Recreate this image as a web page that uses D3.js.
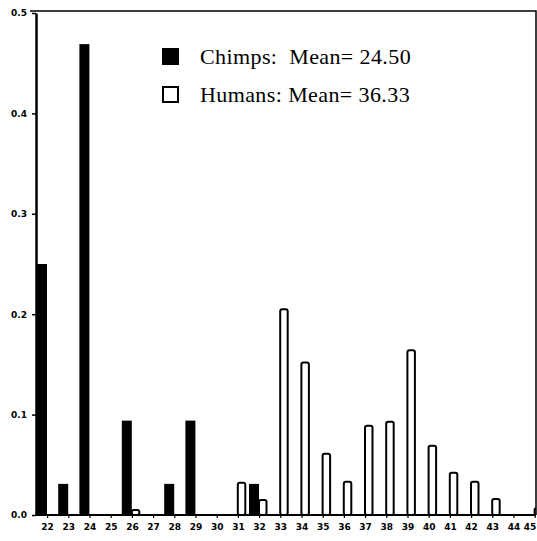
<!DOCTYPE html>
<html>
<head>
<meta charset="utf-8">
<script src="https://cdn.jsdelivr.net/npm/d3@7"></script>
<style>
  body { margin: 0; background: #fff; }
  .tick-label { font-family: "DejaVu Sans", sans-serif; font-weight: bold; font-size: 9px; fill: #000; }
  .legend-text { font-family: "Liberation Serif", serif; font-size: 22px; letter-spacing: 0.4px; fill: #000; white-space: pre; }
</style>
</head>
<body>
<svg id="chart"></svg>
<script>
// ages on the x axis
const ages = ['22','23','24','25','26','27','28','29','30','31','32','33',
              '34','35','36','37','38','39','40','41','42','43','44','45'];
// proportion of chimps per age
const chimpValues = [0.25, 0.031, 0.469, 0, 0.094, 0, 0.031, 0.094, 0, 0, 0.031, 0,
                     0, 0, 0, 0, 0, 0, 0, 0, 0, 0, 0, 0];
// proportion of humans per age
const humanValues = [0, 0, 0, 0, 0.005, 0, 0, 0, 0, 0.032, 0.015, 0.205,
                     0.152, 0.061, 0.033, 0.089, 0.093, 0.164, 0.069, 0.042, 0.033, 0.016, 0, 0.007];
const yTicks = [0.0, 0.1, 0.2, 0.3, 0.4, 0.5];
const legendLabels = ['Chimps:  Mean= 24.50', 'Humans: Mean= 36.33'];

class PairedBars {
  constructor(_config) {
    this.config = {
      parentElement: _config.parentElement,
      containerWidth: _config.containerWidth || 537,
      containerHeight: _config.containerHeight || 541,
      margin: _config.margin || {top: 13, right: 1, bottom: 26, left: 36}
    };
    this.initVis();
  }

  initVis() {
    let vis = this;
    vis.width = vis.config.containerWidth - vis.config.margin.left - vis.config.margin.right;
    vis.height = vis.config.containerHeight - vis.config.margin.top - vis.config.margin.bottom;

    vis.svg = d3.select(vis.config.parentElement)
        .attr('width', vis.config.containerWidth)
        .attr('height', vis.config.containerHeight);

    vis.chart = vis.svg.append('g')
        .attr('transform', `translate(${vis.config.margin.left},${vis.config.margin.top})`);

    // categories step ~21.2px, last one runs past the frame
    vis.xScale = d3.scaleBand()
        .domain(ages)
        .range([1, 1 + ages.length * 21.2])
        .paddingInner(0);

    vis.yScale = d3.scaleLinear()
        .domain([0, 0.5])
        .range([vis.height, 0]);

    vis.svg.append('clipPath').attr('id', 'plot-clip')
      .append('rect')
        .attr('width', vis.width)
        .attr('height', vis.height + 2);

    vis.renderVis();
  }

  renderVis() {
    let vis = this;
    const bars = vis.chart.append('g').attr('clip-path', 'url(#plot-clip)');

    const chimps = ages.map((a, i) => ({key: a, value: chimpValues[i]})).filter(d => d.value > 0);
    const humans = ages.map((a, i) => ({key: a, value: humanValues[i]})).filter(d => d.value > 0);

    bars.selectAll('.chimp')
        .data(chimps)
        .join('rect')
        .attr('class', 'chimp')
        .attr('x', d => vis.xScale(d.key))
        .attr('width', 10)
        .attr('y', d => vis.yScale(d.value))
        .attr('height', d => vis.height - vis.yScale(d.value))
        .attr('fill', '#000');

    bars.selectAll('.human')
        .data(humans)
        .join('rect')
        .attr('class', 'human')
        .attr('x', d => vis.xScale(d.key) + 10)
        .attr('width', 7.5)
        .attr('y', d => vis.yScale(d.value))
        .attr('height', d => vis.height - vis.yScale(d.value))
        .attr('rx', 2)
        .attr('fill', '#fff')
        .attr('stroke', '#000')
        .attr('stroke-width', 2);

    // frame: top and right lines
    vis.chart.append('path')
        .attr('d', `M-6,-2H${vis.width}V${vis.height}`)
        .attr('fill', 'none')
        .attr('stroke', '#000')
        .attr('stroke-width', 1.5);

    // y axis
    const yAxis = d3.axisLeft(vis.yScale)
        .tickValues(yTicks)
        .tickFormat(d3.format('.1f'))
        .tickSize(4)
        .tickSizeOuter(0)
        .tickPadding(5);
    const yAxisG = vis.chart.append('g').call(yAxis);
    yAxisG.select('.domain').attr('stroke-width', 2.5);
    yAxisG.selectAll('.tick line').attr('stroke-width', 1.5);
    yAxisG.selectAll('.tick text').attr('class', 'tick-label').attr('font-size', null).attr('font-family', null);

    // x axis
    const xAxis = d3.axisBottom(vis.xScale)
        .tickSize(3)
        .tickSizeOuter(0)
        .tickPadding(6);
    const xAxisG = vis.chart.append('g')
        .attr('transform', `translate(0,${vis.height})`)
        .call(xAxis);
    xAxisG.select('.domain').attr('d', `M0,0H${vis.width}`).attr('stroke-width', 2);
    xAxisG.selectAll('.tick line').attr('stroke-width', 1.2);
    xAxisG.selectAll('.tick text').attr('class', 'tick-label').attr('font-size', null).attr('font-family', null);
    // last label sits on the right edge, keep it inside
    xAxisG.selectAll('.tick text').filter(d => d === '45')
        .attr('text-anchor', 'end')
        .attr('dx', 1);

    // legend
    const legend = vis.svg.append('g').attr('transform', 'translate(162,48)');
    const rows = legend.selectAll('g')
        .data(legendLabels)
        .join('g')
        .attr('transform', (d, i) => `translate(0,${i * 38})`);
    rows.append('rect')
        .attr('x', (d, i) => i ? 1 : 0)
        .attr('y', (d, i) => i ? 1 : 0)
        .attr('width', (d, i) => i ? 15 : 17)
        .attr('height', (d, i) => i ? 15 : 17)
        .attr('fill', (d, i) => i ? '#fff' : '#000')
        .attr('stroke', '#000')
        .attr('stroke-width', (d, i) => i ? 2 : 0);
    rows.append('text')
        .attr('class', 'legend-text')
        .attr('x', 38)
        .attr('y', 16)
        .text(d => d);
  }
}

new PairedBars({parentElement: '#chart'});
</script>
</body>
</html>
